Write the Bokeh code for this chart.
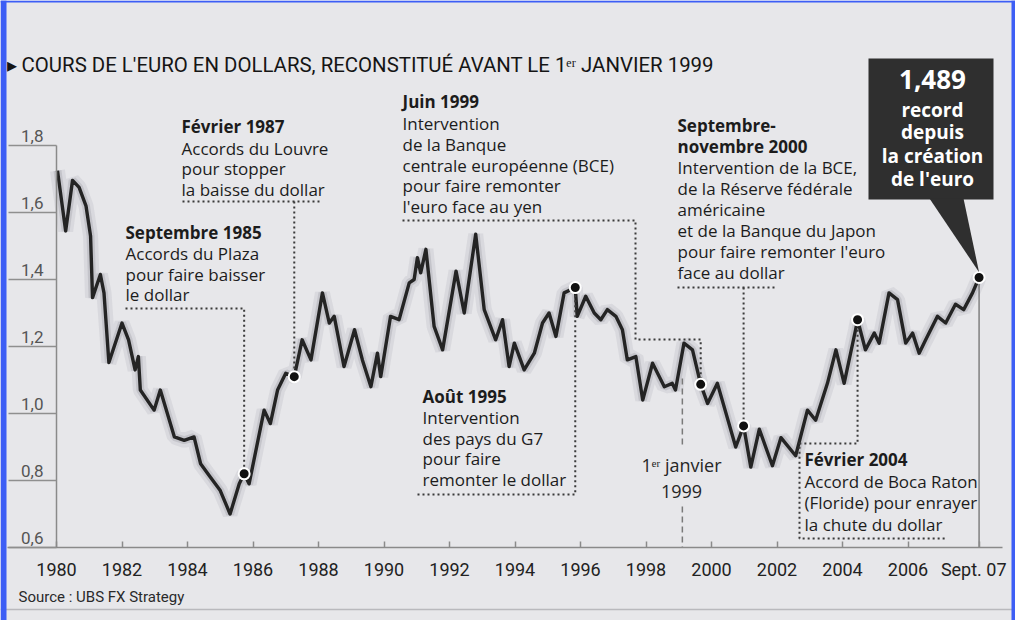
from bokeh.plotting import figure
from bokeh.models import (Range1d, LinearAxis, FixedTicker, CustomJSTickFormatter,
                          Label, BoxAnnotation, PolyAnnotation, Span)
from bokeh.embed import file_html
from bokeh.resources import INLINE

# ---------------- data ----------------
dates = [1980.03, 1980.28, 1980.49, 1980.69, 1980.90, 1981.04, 1981.10, 1981.34, 1981.45, 1981.60,
         1982.00, 1982.20, 1982.40, 1982.50, 1982.56, 1982.98, 1983.17, 1983.60, 1983.90, 1984.20,
         1984.40, 1984.70, 1985.00, 1985.30, 1985.58, 1985.73, 1985.88, 1986.34, 1986.53, 1986.75,
         1987.00, 1987.26, 1987.50, 1987.77, 1988.12, 1988.33, 1988.48, 1988.78, 1989.10, 1989.34,
         1989.60, 1989.80, 1989.90, 1990.20, 1990.46, 1990.77, 1990.92, 1991.02, 1991.12, 1991.28,
         1991.53, 1991.79, 1992.20, 1992.45, 1992.80, 1993.06, 1993.41, 1993.62, 1993.82, 1993.98,
         1994.28, 1994.59, 1994.84, 1995.04, 1995.25, 1995.50, 1995.84, 1995.90, 1996.16, 1996.42,
         1996.62, 1996.82, 1997.08, 1997.28, 1997.43, 1997.69, 1997.90, 1998.20, 1998.56, 1998.80,
         1998.90, 1999.16, 1999.42, 1999.67, 1999.88, 2000.18, 2000.74, 2000.98, 2001.20, 2001.46,
         2001.86, 2002.12, 2002.57, 2002.93, 2003.18, 2003.54, 2003.80, 2004.05, 2004.40, 2004.46,
         2004.70, 2004.97, 2005.12, 2005.42, 2005.68, 2005.93, 2006.14, 2006.34, 2006.54, 2006.90,
         2007.15, 2007.45, 2007.70, 2007.97, 2008.17]
rates = [1.725, 1.545, 1.696, 1.675, 1.620, 1.530, 1.346, 1.415, 1.360, 1.152,
         1.270, 1.220, 1.130, 1.170, 1.070, 1.010, 1.070, 0.930, 0.920, 0.930,
         0.850, 0.810, 0.770, 0.700, 0.790, 0.820, 0.790, 1.010, 0.970, 1.070,
         1.120, 1.110, 1.220, 1.160, 1.360, 1.270, 1.290, 1.140, 1.250, 1.160,
         1.080, 1.180, 1.110, 1.290, 1.280, 1.390, 1.400, 1.465, 1.420, 1.490,
         1.260, 1.190, 1.425, 1.300, 1.535, 1.310, 1.220, 1.280, 1.140, 1.210,
         1.130, 1.180, 1.270, 1.300, 1.230, 1.360, 1.376, 1.290, 1.350, 1.300,
         1.280, 1.310, 1.290, 1.250, 1.160, 1.170, 1.040, 1.150, 1.080, 1.090,
         1.070, 1.210, 1.190, 1.087, 1.030, 1.090, 0.900, 0.963, 0.840, 0.953,
         0.844, 0.928, 0.874, 1.010, 0.980, 1.090, 1.190, 1.090, 1.250, 1.280,
         1.190, 1.240, 1.210, 1.360, 1.340, 1.210, 1.240, 1.180, 1.220, 1.290,
         1.270, 1.326, 1.310, 1.360, 1.406]

event_dates = [1985.73, 1987.26, 1995.84, 1999.67, 2000.98, 2004.46, 2008.17]
event_rates = [0.820, 1.110, 1.376, 1.087, 0.963, 1.280, 1.406]
euro_launch = 1999.11

xticks = [1980, 1982, 1984, 1986, 1988, 1990, 1992, 1994, 1996, 1998, 2000, 2002, 2004, 2006, 2008.17]
xlabels = ["1980", "1982", "1984", "1986", "1988", "1990", "1992", "1994", "1996", "1998",
           "2000", "2002", "2004", "2006", "Sept. 07\u00a0\u00a0"]
yticks = [0.6, 0.8, 1.0, 1.2, 1.4, 1.6, 1.8]

# ---------------- layout helpers (page pixels -> data) ----------------
PXY = 32.75   # px per year
PXU = 335.0   # px per unit


def X(px):
    return 1980 + (px - 64) / PXY


def Y(py):
    return 0.6 + (555 - py) / PXU


BG = "#e7e7ea"
INK = "#1c1c1c"
BLUE = "#3d5ef5"
BOX = "#2f2f2f"
TXT = "Open Sans"
NUM = "Roboto"

p = figure(width=1015, height=620, output_backend="svg", toolbar_location=None,
           x_range=Range1d(X(8), X(1023)), y_range=Range1d(Y(628), Y(8)),
           x_axis_location=None, y_axis_location=None, min_border=0,
           background_fill_color=BG, border_fill_color=BG, outline_line_color=None)
for g in p.grid:
    g.visible = False

# x axis
xa = LinearAxis(fixed_location=0.6, bounds=(X(15), X(1010)),
                ticker=FixedTicker(ticks=xticks),
                major_label_overrides={t: l for t, l in zip(xticks, xlabels)})
xa.axis_line_color = "#8a8a8a"
xa.axis_line_width = 1.5
xa.major_tick_in = 6
xa.major_tick_out = 0
xa.major_tick_line_color = "#8a8a8a"
xa.major_tick_line_width = 1.5
xa.minor_tick_line_color = None
xa.major_label_text_font = NUM
xa.major_label_text_font_size = "18px"
xa.major_label_text_color = "#222222"
xa.major_label_standoff = 11
p.add_layout(xa, "below")

# y axis: line + long outward ticks (labels drawn by the shifted axis below)
ya = LinearAxis(fixed_location=1980, bounds=(0.6, 1.8), ticker=FixedTicker(ticks=yticks))
ya.axis_line_color = "#8a8a8a"
ya.axis_line_width = 1.5
ya.major_tick_out = 48
ya.major_tick_in = 0
ya.major_tick_line_color = "#8f8f8f"
ya.major_tick_line_width = 1.5
ya.minor_tick_line_color = None
ya.major_label_text_color = None
p.add_layout(ya, "left")

# y labels sit just above the tick lines: same ticks on a slightly shifted range
d = 0.029
p.extra_y_ranges = {"lab": Range1d(Y(628) - d, Y(8) - d)}
yl = LinearAxis(y_range_name="lab", fixed_location=1980, ticker=FixedTicker(ticks=yticks),
                formatter=CustomJSTickFormatter(code="return tick.toFixed(1).replace('.', ',')"))
yl.axis_line_color = None
yl.major_tick_line_color = None
yl.minor_tick_line_color = None
yl.major_tick_out = 0
yl.major_tick_in = 0
yl.major_label_standoff = 13
yl.major_label_text_font = NUM
yl.major_label_text_font_size = "17px"
yl.major_label_text_color = "#555555"
p.add_layout(yl, "left")

# series with soft shadow
p.line(dates, rates, line_width=15, line_color="#8a8a96", line_alpha=0.14)
p.line(dates, rates, line_width=8, line_color="#7a7a86", line_alpha=0.22)
p.line(dates, rates, line_width=3.4, line_color="#242424", line_join="round")

# thin line below the last value
p.segment(x0=[dates[-1]], y0=[0.6], x1=[dates[-1]], y1=[rates[-1]], line_color="#666666", line_width=1.2)

# dotted leader lines (text side in page px, mark side from the data)
e = list(zip(event_dates, event_rates))
lead_xs = [
    [X(133), e[0][0], e[0][0]],
    [X(190), X(327)], [e[1][0], e[1][0]],
    [X(410), X(643), X(643), e[3][0], e[3][0]],
    [X(425), e[2][0], e[2][0]],
    [X(685), X(785)], [e[4][0], e[4][0]],
    [e[5][0], e[5][0], X(807), X(807), X(954)],
]
lead_ys = [
    [Y(316), Y(316), e[0][1]],
    [Y(209), Y(209)], [Y(209), e[1][1]],
    [Y(228), Y(228), Y(347), Y(347), e[3][1]],
    [Y(502), Y(502), e[2][1]],
    [Y(295), Y(295)], [Y(295), e[4][1]],
    [e[5][1], Y(451), Y(451), Y(546), Y(546)],
]
p.multi_line(lead_xs, lead_ys, line_color="#3a3a3a", line_width=2, line_dash="2 3")

# dashed marker for 1 Jan 1999
p.multi_line([[euro_launch, euro_launch], [euro_launch, euro_launch]],
             [[Y(386), Y(456)], [Y(514), 0.6]],
             line_color="#7a7a7a", line_width=1.5, line_dash="6 4")

# event dots
p.scatter(event_dates, event_rates, size=11, fill_color="#111111", line_color="white", line_width=2)

# callout box with pointer
p.add_layout(BoxAnnotation(left=X(876), right=X(1001), top=Y(66), bottom=Y(207),
                           fill_color=BOX, fill_alpha=1.0, line_color=None))
p.add_layout(PolyAnnotation(xs=[X(937), X(971), dates[-1]], ys=[Y(206), Y(206), rates[-1] + 0.016],
                            fill_color=BOX, fill_alpha=1.0, line_color=None))


def lab(text, px, py, size=17, bold=False, color=INK, align="left", font=TXT):
    # py is the wanted baseline in page px; correct for the renderer's baseline offset
    p.add_layout(Label(x=X(px), y=Y(py - 0.41 * size), text=text, text_align=align,
                       text_baseline="alphabetic", text_font=font, text_font_size=f"{size}px",
                       text_font_style="bold" if bold else "normal", text_color=color))


# title & source
lab("▸ COURS DE L'EURO EN DOLLARS, RECONSTITUÉ AVANT LE 1ᵉʳ JANVIER 1999", 14, 81, size=20.4,
    color="#151515", font=NUM)
lab("Source : UBS FX Strategy", 26, 611, size=15, color="#2a2a2a", font=NUM)

blocks = [
    (133, [("Septembre 1985", 247, True), ("Accords du Plaza", 268, False),
           ("pour faire baisser", 289, False), ("le dollar", 309, False)]),
    (189, [("Février 1987", 141, True), ("Accords du Louvre", 163, False),
           ("pour stopper", 183, False), ("la baisse du dollar", 204, False)]),
    (410, [("Juin 1999", 116, True), ("Intervention", 138, False), ("de la Banque", 159, False),
           ("centrale européenne (BCE)", 180, False), ("pour faire remonter", 200, False),
           ("l'euro face au yen", 221, False)]),
    (430, [("Août 1995", 411, True), ("Intervention", 432, False), ("des pays du G7", 453, False),
           ("pour faire", 473, False), ("remonter le dollar", 494, False)]),
    (685, [("Septembre-", 140, True), ("novembre 2000", 161, True),
           ("Intervention de la BCE,", 182, False), ("de la Réserve fédérale", 203, False),
           ("américaine", 224, False), ("et de la Banque du Japon", 245, False),
           ("pour faire remonter l'euro", 266, False), ("face au dollar", 287, False)]),
    (812, [("Février 2004", 474, True), ("Accord de Boca Raton", 496, False),
           ("(Floride) pour enrayer", 517, False), ("la chute du dollar", 539, False)]),
]
for px, lines in blocks:
    for text, py, bold in lines:
        lab(text, px, py, bold=bold)

lab("1ᵉʳ janvier", 689, 480, size=18, color="#262626", align="center")
lab("1999", 689, 506, size=18, color="#262626", align="center")

# callout text
lab("1,489", 940, 98, size=26, bold=True, color="white", align="center")
for text, py in [("record", 125), ("depuis", 147), ("la création", 171), ("de l'euro", 194)]:
    lab(text, 940, py, size=19, bold=True, color="white", align="center")

# bottom rule and blue scan frame
p.add_layout(Span(location=Y(617), dimension="width", line_color="#b9b9bd", line_width=1.5))
p.add_layout(BoxAnnotation(right=X(14), fill_color=BLUE, fill_alpha=1.0, line_color=None))
p.add_layout(BoxAnnotation(bottom=Y(10), fill_color=BLUE, fill_alpha=1.0, line_color=None))
p.add_layout(BoxAnnotation(left=X(1019), fill_color=BLUE, fill_alpha=1.0, line_color=None))

open("out.html", "w").write(file_html(p, INLINE))
